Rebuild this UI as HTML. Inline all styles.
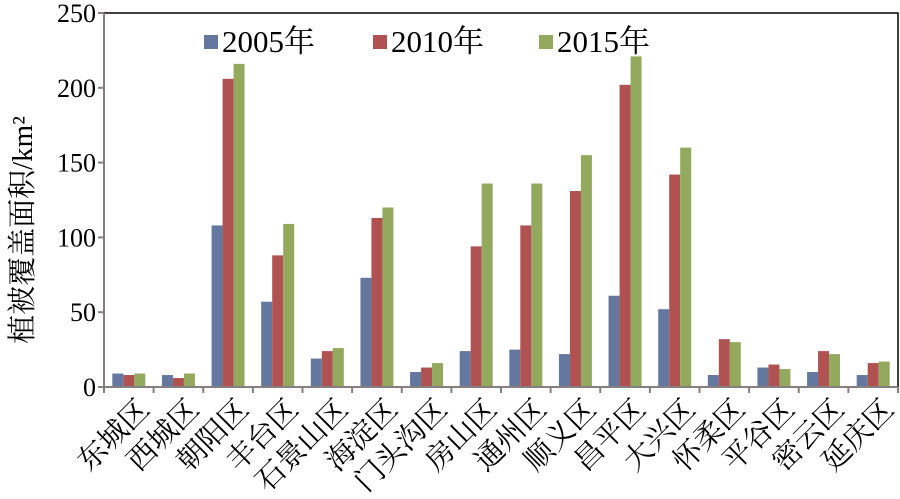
<!DOCTYPE html>
<html><head><meta charset="utf-8"><style>
body{margin:0;background:#fff;}
svg text{font-family:"Liberation Serif","Noto Serif CJK SC","Noto Sans CJK SC",serif;}
</style></head><body>
<svg width="900" height="494" id="c">
</svg>
<script>
const categories=["东城区","西城区","朝阳区","丰台区","石景山区","海淀区","门头沟区","房山区","通州区","顺义区","昌平区","大兴区","怀柔区","平谷区","密云区","延庆区"];
const s2005=[9,8,108,57,19,73,10,24,25,22,61,52,8,13,10,8];
const s2010=[8,6,206,88,24,113,13,94,108,131,202,142,32,15,24,16];
const s2015=[9,9,216,109,26,120,16,136,136,155,221,160,30,12,22,17];
const yTicks=[0,50,100,150,200,250];
const seriesNames=["2005年","2010年","2015年"];
const colors=["#64779f","#b05252","#93a95d"];
const NS="http://www.w3.org/2000/svg";
const svg=document.getElementById('c');
const L=104,R=898,T=13,B=387,ymax=250;
const y=v=>B-(v/ymax)*(B-T);
const bw=(R-L)/categories.length;
const x=i=>L+i*bw;
function mk(t,a){const e=document.createElementNS(NS,t);for(const k in a)e.setAttribute(k,a[k]);svg.appendChild(e);return e;}
let f=mk('rect',{x:L,y:T,width:R-L,height:B-T,fill:'none',stroke:'#000','stroke-width':1.5});


const series=[s2005,s2010,s2015];
const barW=11;
series.forEach((s,si)=>{s.forEach((v,i)=>{
 const cx=x(i)+bw/2;
 const r=mk('rect',{x:cx-1.5*barW+si*barW,y:y(v),width:barW,height:B-y(v),fill:colors[si]});
 
 
});});
let ya=mk('line',{x1:L,y1:T,x2:L,y2:B,stroke:'#857f7f','stroke-width':2});


let xa=mk('line',{x1:L,y1:B,x2:R,y2:B,stroke:'#857f7f','stroke-width':2});


yTicks.forEach(t=>{
 const tl=mk('line',{x1:L-6,y1:y(t),x2:L,y2:y(t),stroke:'#857f7f','stroke-width':2});
 
 
 const tx=mk('text',{x:L-8,y:y(t)+9,'text-anchor':'end','font-size':26});
 tx.textContent=t;
 
 
});
for(let i=0;i<=categories.length;i++){
 const tl=mk('line',{x1:x(i),y1:B,x2:x(i),y2:B+6,stroke:'#857f7f','stroke-width':2});
 
 
}
categories.forEach((c,i)=>{
 const cx=x(i)+bw/2+8, cy=B+10;
 const t=mk('text',{x:cx,y:cy,'text-anchor':'end','font-size':29,transform:`rotate(-45 ${cx} ${cy})`,'dominant-baseline':'hanging'});
 t.textContent=c;
 
 
});
const yl=mk('text',{x:32,y:(T+B)/2+30,'text-anchor':'middle','font-size':29,transform:`rotate(-90 32 ${(T+B)/2+30})`});
yl.textContent='植被覆盖面积/km²';


const lx=[204,373,539];
seriesNames.forEach((n,i)=>{
 const r=mk('rect',{x:lx[i],y:35,width:14,height:14,fill:colors[i]});
 
 
 const t=mk('text',{x:lx[i]+18,y:52,'font-size':31});
 t.textContent=n;
 
 
});
</script>
</body></html>
